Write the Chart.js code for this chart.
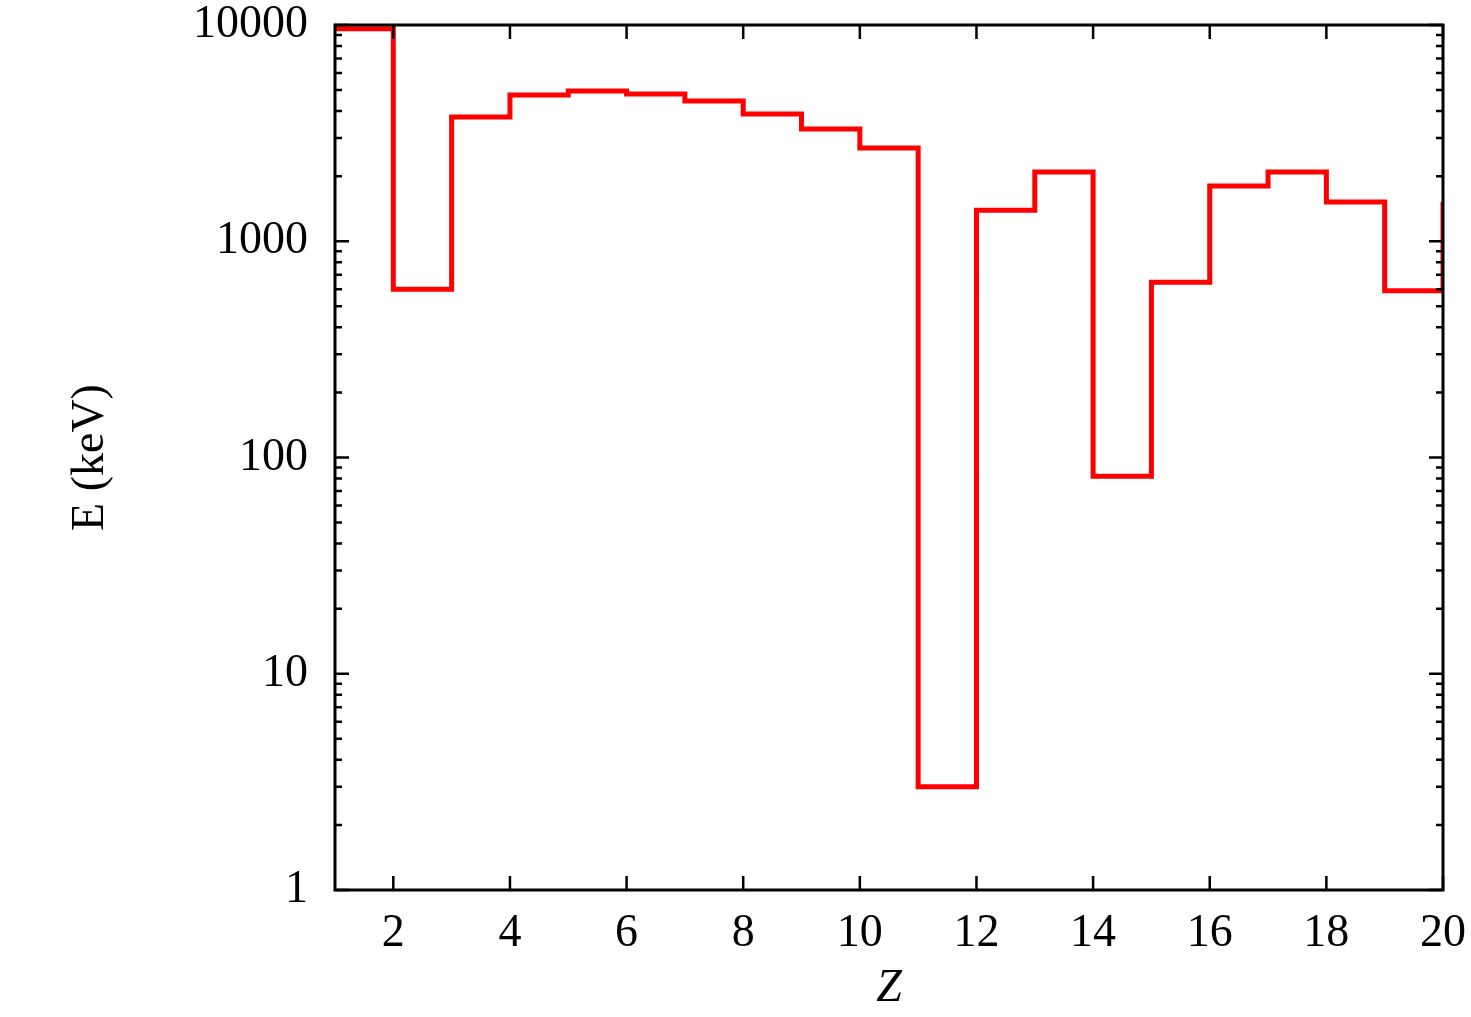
<!DOCTYPE html>
<html>
<head>
<meta charset="utf-8">
<script src="https://cdn.jsdelivr.net/npm/chart.js@4/dist/chart.umd.min.js"></script>
<style>
  body { margin: 0; background: #fff; }
  #wrap { width: 1471px; height: 1017px; }
</style>
</head>
<body>
<div id="wrap"><canvas id="energyChart"></canvas></div>
<script>
// bin start Z and the energy of that bin (keV)
const zValues = [1, 2, 3, 4, 5, 6, 7, 8, 9, 10, 11, 12, 13, 14, 15, 16, 17, 18, 19, 20];
const energy = [9600, 600, 3750, 4750, 4950, 4800, 4450, 3880, 3300, 2700,
                3.0, 1390, 2090, 82, 646, 1800, 2090, 1520, 590, 1520];

const xTicks = [2, 4, 6, 8, 10, 12, 14, 16, 18, 20];
const yTicks = [1, 10, 100, 1000, 10000];

const font = { family: "'Liberation Serif', 'DejaVu Serif', serif", size: 46 };

// frame + inward ticks on all four sides, like the original plot
const framePlugin = {
  id: "frame",
  afterDraw(chart) {
    const { ctx, chartArea: a, scales } = chart;
    const x = scales.x, y = scales.y;
    ctx.save();
    ctx.strokeStyle = "#000";
    ctx.lineWidth = 3;
    ctx.strokeRect(a.left, a.top, a.right - a.left, a.bottom - a.top);
    ctx.lineWidth = 2.5;
    ctx.beginPath();
    xTicks.forEach(v => {
      const px = x.getPixelForValue(v);
      ctx.moveTo(px, a.bottom); ctx.lineTo(px, a.bottom - 14);
      ctx.moveTo(px, a.top); ctx.lineTo(px, a.top + 14);
    });
    yTicks.forEach((v, i) => {
      const py = y.getPixelForValue(v);
      ctx.moveTo(a.left, py); ctx.lineTo(a.left + 14, py);
      ctx.moveTo(a.right, py); ctx.lineTo(a.right - 14, py);
      if (i < yTicks.length - 1) {
        for (let m = 2; m < 10; m++) {
          const pm = y.getPixelForValue(v * m);
          ctx.moveTo(a.left, pm); ctx.lineTo(a.left + 7, pm);
          ctx.moveTo(a.right, pm); ctx.lineTo(a.right - 7, pm);
        }
      }
    });
    ctx.stroke();
    ctx.restore();
  }
};

const ctx = document.getElementById("energyChart").getContext("2d");

new Chart(ctx, {
  type: "line",
  data: {
    datasets: [{
      data: zValues.map((z, i) => ({ x: z, y: energy[i] })),
      borderColor: "#ff0000",
      borderWidth: 5,
      pointRadius: 0,
      stepped: "before",
      fill: false,
    }],
  },
  options: {
    responsive: true,
    maintainAspectRatio: false,
    animation: false,
    layout: { padding: { left: 0, top: 25, right: 28, bottom: 0 } },
    plugins: { legend: { display: false }, tooltip: { enabled: false } },
    scales: {
      x: {
        type: "linear",
        min: 1,
        max: 20,
        afterBuildTicks: s => { s.ticks = xTicks.map(v => ({ value: v })); },
        afterFit: s => { s.height = 127; s.paddingLeft = 0; s.paddingRight = 0; },
        grid: { display: false, drawTicks: false },
        border: { display: false },
        ticks: { font, color: "#000", padding: 16, maxRotation: 0 },
        title: {
          display: true,
          text: "Z",
          color: "#000",
          font: { ...font, style: "italic" },
          padding: { top: 0, bottom: 0 },
        },
      },
      y: {
        type: "logarithmic",
        min: 1,
        max: 10000,
        afterBuildTicks: s => { s.ticks = yTicks.map(v => ({ value: v })); },
        afterFit: s => { s.width = 335; s.paddingTop = 0; s.paddingBottom = 0; },
        grid: { display: false, drawTicks: false },
        border: { display: false },
        ticks: { font, color: "#000", padding: 27, callback: v => String(v) },
        title: {
          display: true,
          text: "E (keV)",
          color: "#000",
          font,
          padding: { top: 63, bottom: 0 },
        },
      },
    },
  },
  plugins: [framePlugin],
});
</script>
</body>
</html>
